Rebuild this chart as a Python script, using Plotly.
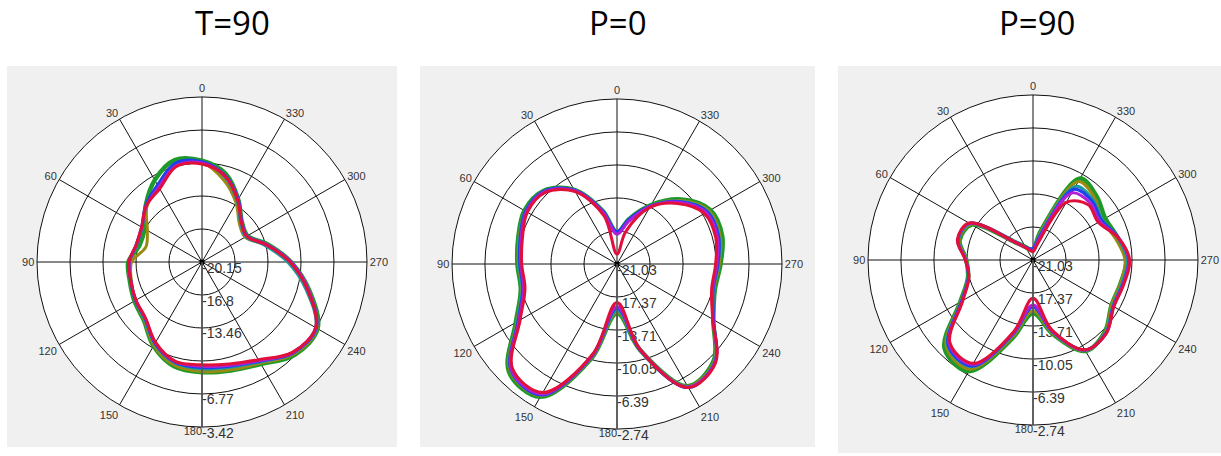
import plotly.graph_objects as go

W, H = 1221, 456

# ---------------- data ----------------
theta_deg = [0, 15, 30, 45, 60, 75, 90, 105, 120, 135, 150, 165,
             180, 195, 210, 225, 240, 255, 270, 285, 300, 315, 330, 345]
angle_ticks = [0, 30, 60, 90, 120, 150, 180, 210, 240, 270, 300, 330]
titles = ["T=90", "P=0", "P=90"]

# radial ticks (dB) for each panel
r_ticks_1 = [-20.15, -16.8, -13.46, -10.11, -6.77, -3.42]
r_text_1 = ["-20.15", "-16.8", "-13.46", "", "-6.77", "-3.42"]
r_ticks_23 = [-21.03, -17.37, -13.71, -10.05, -6.39, -2.74]
r_text_23 = ["-21.03", "-17.37", "-13.71", "-10.05", "-6.39", "-2.74"]

# Panel 1: T=90
t90_green = [-9.88, -9.45, -10.56, -12.07, -13.42, -13.59, -12.68, -12.58, -12.24, -11.80, -10.32, -9.21,
             -8.98, -8.77, -8.20, -6.85, -6.62, -8.87, -11.13, -13.25, -14.83, -14.43, -12.81, -10.89]
t90_olive = [-10.12, -10.05, -11.33, -12.24, -13.75, -14.26, -13.01, -12.74, -12.34, -11.87, -10.39, -9.31,
             -9.04, -8.84, -8.30, -6.96, -6.69, -8.98, -11.33, -13.49, -15.10, -14.76, -13.25, -11.57]
t90_teal = [-10.05, -9.88, -11.23, -12.14, -13.15, -13.32, -12.81, -12.68, -12.34, -11.94, -10.56, -9.55,
            -9.31, -9.11, -8.44, -7.09, -6.85, -9.21, -11.47, -13.59, -15.03, -14.60, -13.01, -11.23]
t90_blue = [-9.98, -9.78, -11.13, -12.07, -13.08, -13.25, -12.78, -12.68, -12.37, -12.00, -10.62, -9.61,
            -9.45, -9.21, -8.54, -7.09, -6.75, -8.98, -11.13, -13.35, -14.87, -14.43, -12.81, -11.06]
t90_magenta = [-10.12, -10.05, -11.40, -12.14, -13.11, -13.28, -12.78, -12.68, -12.41, -12.04, -10.69, -9.68,
               -9.58, -9.31, -8.60, -7.16, -6.82, -8.94, -11.13, -13.35, -14.90, -14.46, -12.88, -11.13]
t90_red = [-10.22, -10.12, -11.57, -12.14, -13.08, -13.25, -12.74, -12.68, -12.41, -12.07, -10.73, -9.72,
           -9.72, -9.45, -8.71, -7.19, -6.85, -9.04, -11.23, -13.42, -14.93, -14.50, -12.91, -11.13]

# Panel 2: P=0
p0_green = [-17.53, -14.96, -11.54, -9.55, -9.18, -9.70, -9.99, -9.99, -8.08, -4.10, -4.03, -10.28,
            -15.58, -11.17, -5.39, -5.87, -8.70, -9.81, -9.55, -8.96, -9.07, -10.91, -13.49, -15.88]
p0_olive = [-17.64, -15.14, -11.65, -9.62, -9.33, -9.81, -10.10, -10.10, -8.22, -4.29, -4.18, -10.36,
            -15.69, -11.20, -5.35, -5.79, -8.74, -9.92, -9.70, -9.18, -9.25, -11.09, -13.56, -16.06]
p0_teal = [-17.53, -15.07, -11.61, -9.62, -9.33, -9.88, -10.17, -10.14, -8.30, -4.40, -4.29, -10.47,
           -15.88, -11.24, -5.28, -5.72, -8.70, -9.99, -9.81, -9.33, -9.40, -11.20, -13.63, -15.95]
p0_blue = [-17.46, -14.96, -11.54, -9.59, -9.33, -9.92, -10.25, -10.21, -8.37, -4.40, -4.25, -10.51,
           -16.14, -11.17, -5.21, -5.65, -8.67, -9.99, -9.84, -9.36, -9.47, -11.24, -13.60, -15.88]
p0_magenta = [-17.72, -15.14, -11.65, -9.70, -9.44, -10.03, -10.36, -10.32, -8.48, -4.47, -4.40, -10.58,
              -16.32, -11.24, -5.28, -5.65, -8.74, -10.06, -9.95, -9.51, -9.62, -11.35, -13.67, -16.17]
p0_red = [-19.93, -15.51, -11.76, -9.81, -9.55, -10.17, -10.47, -10.47, -8.63, -4.65, -4.58, -10.73,
          -16.76, -11.28, -5.21, -5.57, -8.78, -10.17, -10.10, -9.70, -9.84, -11.54, -13.82, -17.35]

# Panel 3: P=90
p90_green = [-19.92, -19.85, -19.37, -18.26, -13.20, -12.61, -13.64, -13.57, -11.72, -7.17, -6.80, -11.98,
             -15.12, -12.53, -9.39, -9.76, -10.98, -10.98, -10.68, -11.35, -11.79, -11.05, -10.61, -17.70]
p90_olive = [-20.00, -19.85, -19.40, -18.26, -13.09, -12.53, -13.64, -13.64, -11.79, -7.43, -7.06, -12.16,
             -15.41, -12.61, -9.43, -9.72, -10.98, -10.98, -10.83, -11.61, -12.24, -11.35, -10.98, -17.89]
p90_teal = [-19.92, -19.85, -19.40, -18.22, -12.98, -12.46, -13.57, -13.60, -11.87, -7.65, -7.36, -12.46,
            -15.86, -12.75, -9.47, -9.65, -10.83, -10.83, -10.57, -11.35, -12.16, -11.61, -11.61, -18.26]
p90_blue = [-19.74, -19.74, -19.37, -18.15, -12.90, -12.42, -13.57, -13.64, -11.90, -7.73, -7.47, -12.53,
            -15.86, -12.83, -9.50, -9.58, -10.76, -10.72, -10.43, -11.24, -12.24, -11.79, -11.98, -18.44]
p90_magenta = [-20.00, -19.89, -19.44, -18.22, -12.90, -12.38, -13.57, -13.64, -11.98, -7.88, -7.65, -12.64,
               -16.04, -12.90, -9.50, -9.54, -10.72, -10.68, -10.39, -11.28, -12.46, -12.09, -12.46, -18.81]
p90_red = [-20.11, -19.92, -19.48, -18.26, -12.83, -12.35, -13.53, -13.68, -12.05, -8.02, -7.80, -12.83,
           -16.78, -13.01, -9.54, -9.54, -10.68, -10.61, -10.31, -11.31, -12.68, -12.38, -13.64, -19.26]

series_colors = ["#1f9a2a", "#9a8a10", "#1a9a9a", "#2040f0", "#b020d8", "#e0103c"]
series_widths = [4.5, 3, 3, 3, 3, 3]

panels = [
    dict(series=[t90_green, t90_olive, t90_teal, t90_blue, t90_magenta, t90_red],
         ticks=r_ticks_1, text=r_text_1, center=(202, 262), box=(7, 66, 397, 447), title_x=232),
    dict(series=[p0_green, p0_olive, p0_teal, p0_blue, p0_magenta, p0_red],
         ticks=r_ticks_23, text=r_text_23, center=(617, 264), box=(420, 66, 815, 447), title_x=618),
    dict(series=[p90_green, p90_olive, p90_teal, p90_blue, p90_magenta, p90_red],
         ticks=r_ticks_23, text=r_text_23, center=(1033, 260), box=(838, 66, 1221, 453), title_x=1037),
]

# the 180 label is drawn beside the radial scale (left of the spoke), like the reference
angle_text = [str(a) if a != 180 else "" for a in angle_ticks]

R = 165
fig = go.Figure()
layout = dict(width=W, height=H, margin=dict(l=0, r=0, t=0, b=0),
              paper_bgcolor="white", plot_bgcolor="white", showlegend=False,
              shapes=[], annotations=[])

for i, p in enumerate(panels):
    key = "polar" if i == 0 else f"polar{i+1}"
    sub = key
    # radial tick labels (beneath the curves), placed along the 180 spoke
    fig.add_trace(go.Scatterpolar(
        r=p["ticks"], theta=[180] * len(p["ticks"]), mode="text", text=p["text"],
        textposition="bottom right",
        textfont=dict(size=14, color="#333333", family="Liberation Sans"),
        subplot=sub, hoverinfo="skip", cliponaxis=False))
    fig.add_trace(go.Scatterpolar(
        r=[p["ticks"][-1]], theta=[180], mode="text", text=["180"],
        textposition="bottom left",
        textfont=dict(size=11, color="#333333", family="Liberation Sans"),
        subplot=sub, hoverinfo="skip", cliponaxis=False))
    for vals, col, lw in zip(p["series"], series_colors, series_widths):
        fig.add_trace(go.Scatterpolar(
            r=vals + vals[:1], theta=theta_deg + theta_deg[:1], mode="lines",
            line=dict(color=col, width=lw, shape="spline", smoothing=1.0),
            subplot=sub, hoverinfo="skip"))
    # center dot
    fig.add_trace(go.Scatterpolar(r=[p["ticks"][0]], theta=[0], mode="markers",
                                  marker=dict(color="black", size=5), subplot=sub, hoverinfo="skip"))
    cx, cy = p["center"]
    layout[key] = dict(
        domain=dict(x=[(cx - R) / W, (cx + R) / W], y=[(H - (cy + R)) / H, (H - (cy - R)) / H]),
        bgcolor="white",
        angularaxis=dict(rotation=90, direction="counterclockwise",
                         tickmode="array", tickvals=angle_ticks, ticktext=angle_text,
                         showgrid=True, gridcolor="#111", gridwidth=1,
                         showline=True, linecolor="#111", linewidth=1, ticks="",
                         tickfont=dict(size=11, color="#333333", family="Liberation Sans")),
        radialaxis=dict(range=[p["ticks"][0], p["ticks"][-1]], tickmode="array",
                        tickvals=p["ticks"], showticklabels=False, angle=270,
                        showline=True, linecolor="#555", linewidth=1.5,
                        showgrid=True, gridcolor="#111", gridwidth=1, ticks=""),
    )
    x0, y0, x1, y1 = p["box"]
    layout["shapes"].append(dict(type="rect", xref="paper", yref="paper",
                                 x0=x0 / W, x1=x1 / W, y0=1 - y1 / H, y1=1 - y0 / H,
                                 fillcolor="#f0f0f0", line=dict(width=0), layer="below"))
    layout["annotations"].append(dict(text=titles[i], x=p["title_x"] / W, y=1 - 23 / H,
                                      xref="paper", yref="paper", showarrow=False,
                                      xanchor="center", yanchor="middle",
                                      font=dict(size=33, color="black", family="Open Sans")))

fig.update_layout(**layout)
fig.write_html("out.html", config={"displayModeBar": False},
               post_script="document.body.style.margin='0';")
